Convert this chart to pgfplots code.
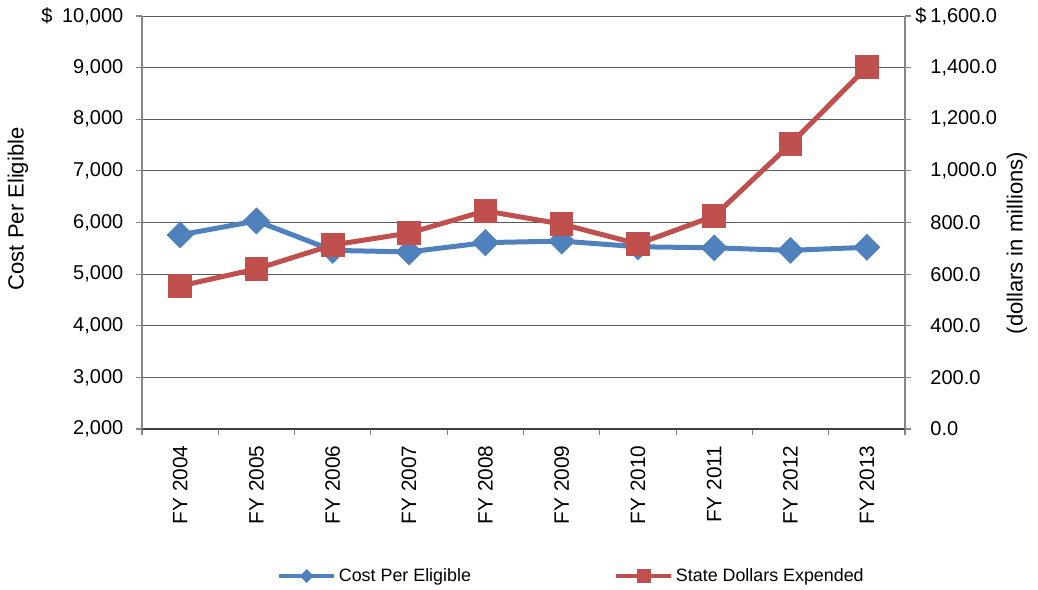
\documentclass[border=0pt]{standalone}
\usepackage{pgfplots}
\pgfplotsset{compat=1.18}
\usepackage{fontspec}
\setmainfont{Liberation Sans}

\definecolor{cpeblue}{HTML}{4F81BD}
\definecolor{sdered}{HTML}{C0504D}
\definecolor{axisgray}{HTML}{868686}

% 1 px of the reference = 0.75pt
\pgfplotsset{
  chart/.style={
    scale only axis, width=572.25pt, height=309.75pt,
    at={(106.5pt,120pt)}, anchor=south west,
    xmin=-0.5, xmax=9.5,
    clip=false,
    scaled x ticks=false, scaled y ticks=false,
    tick align=outside, major tick length=4.5pt,
    tick style={axisgray, line width=0.8pt},
    ticklabel style={font=\fontsize{15}{18}\selectfont},
    label style={font=\fontsize{16.5}{19}\selectfont},
  },
}

\begin{document}
\begin{tikzpicture}
\path[use as bounding box] (0,0) rectangle (778.5pt,441.75pt);

\begin{axis}[chart,
  axis x line*=bottom, axis y line*=left,
  x axis line style={-, black!75, line width=0.9pt},
  y axis line style={-, axisgray, line width=1.2pt},
  ymin=2000, ymax=10000, ytick={2000,3000,...,10000},
  yticklabels={{2,000},{3,000},{4,000},{5,000},{6,000},{7,000},{8,000},{9,000},{\$\hspace{3pt} 10,000}},
  y tick label style={xshift=-6pt},
  ymajorgrids, grid style={black!65, line width=0.75pt},
  xtick={-0.5,0.5,...,9.5},
  x tick label as interval,
  xticklabels={FY 2004,FY 2005,FY 2006,FY 2007,FY 2008,FY 2009,FY 2010,FY 2011,FY 2012,FY 2013},
  x tick label style={rotate=90, anchor=east, xshift=-4.5pt, font=\fontsize{15.6}{18}\selectfont},
  ylabel={Cost Per Eligible},
  ylabel style={at={(axis description cs:-0.1625,0.533)}, anchor=center},
]
\addplot[cpeblue, line width=3.75pt, mark=square*, mark size=5.3pt,
  mark options={solid, rotate=45, draw=none, fill=cpeblue}] coordinates {
(0,5760) (1,6030) (2,5460) (3,5430) (4,5610)
(5,5640) (6,5530) (7,5510) (8,5460) (9,5520)
};
\end{axis}

\begin{axis}[chart,
  axis x line=none, axis y line*=right,
  y axis line style={-, axisgray, line width=1.2pt},
  ymin=0, ymax=1600, ytick={0,200,...,1600},
  yticklabels={{0.0},{200.0},{400.0},{600.0},{800.0},{1,000.0},{1,200.0},{1,400.0},{\llap{\$\hspace{3pt}}1,600.0}},
  y tick label style={anchor=west, xshift=11pt},
  ylabel={(dollars in millions)},
  ylabel style={at={(axis description cs:1.1468,0.45)}, anchor=center, rotate=0},
  legend columns=2,
  legend cell align=left,
  legend style={at={(axis description cs:0.1769,-0.356)}, anchor=west,
    draw=none, fill=none, inner sep=0pt,
    font=\fontsize{13.4}{16}\selectfont,
    /tikz/every even column/.append style={column sep=105.5pt}},
  legend image code/.code={
    \draw[mark repeat=2, mark phase=2, #1, line width=3pt,
      every mark/.append style={scale=0.55}]
      plot coordinates {(0pt,0pt) (20.6pt,0pt) (41.25pt,0pt)};
  },
]
\addlegendimage{cpeblue, mark=square*, mark size=4pt,
  mark options={solid, rotate=45, draw=none, fill=cpeblue}}
\addlegendentry{Cost Per Eligible}
\addplot[sdered, line width=3.75pt, mark=square*, mark size=7pt,
  mark options={solid, draw=none, fill=sdered}] coordinates {
(0,554) (1,620) (2,713) (3,759) (4,845)
(5,794) (6,717) (7,825) (8,1104) (9,1402)
};
\addlegendentry{State Dollars Expended}
\end{axis}
\end{tikzpicture}
\end{document}
